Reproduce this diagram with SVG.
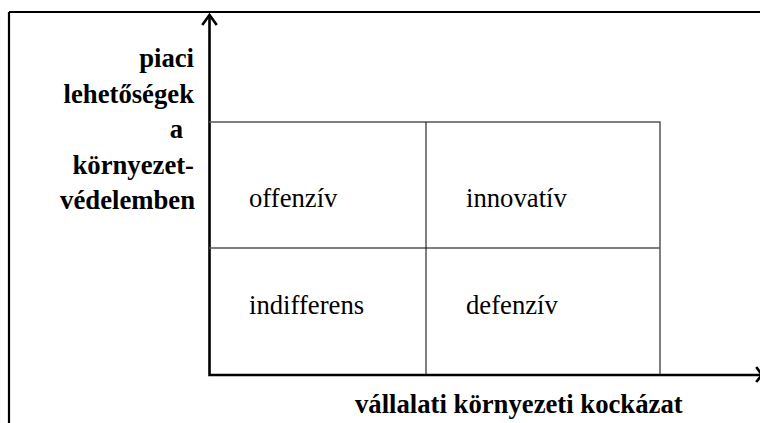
<svg xmlns="http://www.w3.org/2000/svg" width="760" height="423" viewBox="0 0 760 423">
<style>
.frame{fill:none;stroke:#000;stroke-width:2.2}
.axis{fill:none;stroke:#000;stroke-width:2.6}
.grid{fill:none;stroke:#555;stroke-width:1.5}
.gridv{fill:none;stroke:#000;stroke-width:1}
.head{fill:none;stroke:#000;stroke-width:2.6;stroke-linecap:square}
.lbl{font-family:"Liberation Serif","Times New Roman",serif;font-size:26.7px;fill:#000}
.b{font-weight:bold}
</style>
<rect width="760" height="423" fill="#fff"/>
<g id="frame">
<path class="frame" d="M9 12 H760 M9 12 V423"/>
</g>
<g id="connectors">
<path class="axis" d="M209.5 15 V375 H761"/>
<path class="head" d="M203 24 L209.5 15 L216 24"/>
<path class="head" d="M757 368 L762 375 L757 381"/>
</g>
<g id="grid">
<path class="grid" d="M209 122 H660 V374"/>
<path class="grid" d="M209 248 H660"/>
<path class="gridv" d="M426 122 V374"/>
</g>
<g id="y-label">
<text class="lbl b" text-anchor="end" x="194" y="67">piaci</text>
<text class="lbl b" text-anchor="end" x="194" y="102.5">lehetőségek</text>
<text class="lbl b" text-anchor="end" x="183" y="138">a</text>
<text class="lbl b" text-anchor="end" x="194" y="173.5">környezet-</text>
<text class="lbl b" text-anchor="end" x="195" y="209">védelemben</text>
</g>
<g id="x-label">
<text class="lbl b" x="355" y="413">vállalati környezeti kockázat</text>
</g>
<g id="offenziv"><text class="lbl" x="249" y="207">offenzív</text></g>
<g id="innovativ"><text class="lbl" x="466" y="207">innovatív</text></g>
<g id="indifferens"><text class="lbl" x="249" y="314">indifferens</text></g>
<g id="defenziv"><text class="lbl" x="466" y="314">defenzív</text></g>
</svg>
